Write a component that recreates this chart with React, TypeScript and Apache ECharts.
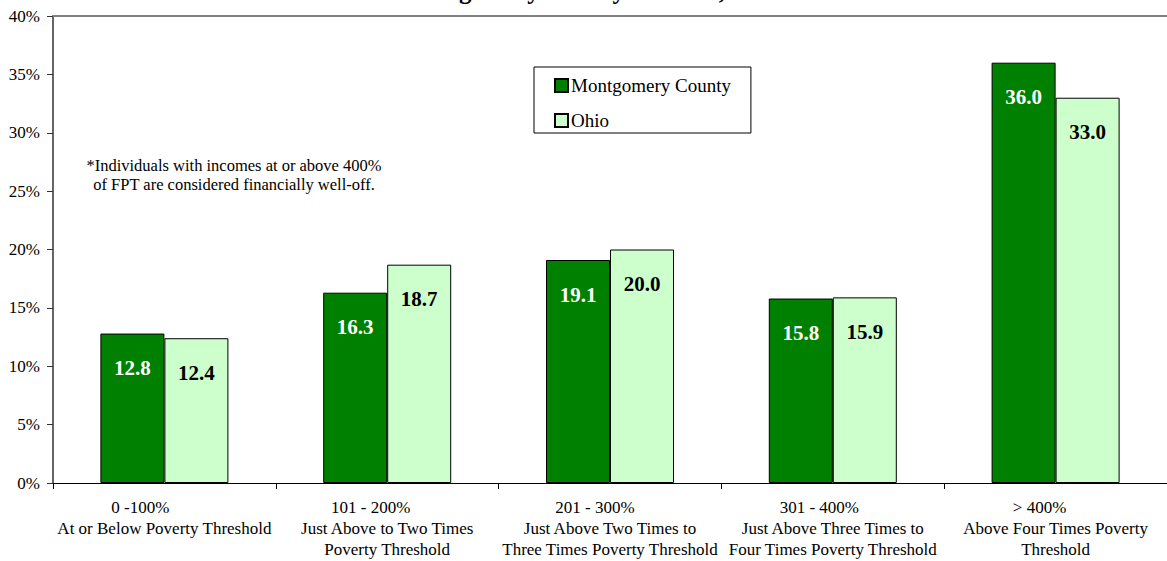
import React, { useEffect, useRef } from "react";
import * as echarts from "echarts";

const categoryRanges = ["0 -100%", "101 - 200%", "201 - 300%", "301 - 400%", "> 400%"];
const categoryDescriptions = [
  "At or Below Poverty Threshold",
  "Just Above to Two Times\nPoverty Threshold",
  "Just Above Two Times to\nThree Times Poverty Threshold",
  "Just Above Three Times to\nFour Times Poverty Threshold",
  "Above Four Times Poverty\nThreshold",
];
const seriesNames = ["Montgomery County", "Ohio"];
const montgomeryValues = [12.8, 16.3, 19.1, 15.8, 36.0];
const ohioValues = [12.4, 18.7, 20.0, 15.9, 33.0];
const titleText = "Income Levels in Montgomery County vs. Ohio, 2008";
const noteLines = [
  "*Individuals with incomes at or above 400%",
  "of FPT are considered financially well-off.",
];

// visual offsets of the first label line (Excel-like trailing space)
const rangePadRight = [48, 33, 30, 27, 32];

const FONT = '"Liberation Serif", "Times New Roman", Times, serif';

export default function App() {
  const ref = useRef<HTMLDivElement>(null);

  useEffect(() => {
    document.body.style.margin = "0";
    const chart = echarts.init(ref.current!, null, { renderer: "svg" });

    const rich: any = {
      d: { fontFamily: FONT, fontSize: 17, color: "#000", lineHeight: 21 },
    };
    rangePadRight.forEach((p, i) => {
      rich["r" + i] = {
        fontFamily: FONT,
        fontSize: 17,
        color: "#000",
        lineHeight: 21,
        padding: [0, p, 0, 0],
      };
    });

    chart.setOption({
      animation: false,
      backgroundColor: "#fff",
      textStyle: { fontFamily: FONT },
      grid: { left: 53, right: -7, top: 16, bottom: 78, containLabel: false },
      legend: {
        orient: "vertical",
        left: 534,
        top: 67,
        padding: [9, 20, 3, 20],
        itemGap: 16,
        itemWidth: 13,
        itemHeight: 13,
        borderColor: "#000",
        borderWidth: 1,
        backgroundColor: "#fff",
        icon: "rect",
        textStyle: { fontFamily: FONT, fontSize: 19, color: "#000", padding: [0, 0, 0, -2] },
        data: seriesNames,
      },
      xAxis: [
        {
          type: "category",
          data: categoryRanges,
          axisLine: { lineStyle: { color: "#000", width: 1.2 } },
          axisTick: { show: true, alignWithLabel: false, length: 6, lineStyle: { color: "#000" } },
          axisLabel: {
            interval: 0,
            margin: 14,
            hideOverlap: false,
            formatter: (v: string, i: number) => {
              const desc = categoryDescriptions[i].split("\n").map((l) => `{d|${l}}`).join("\n");
              return `{r${i}|${v}}\n${desc}`;
            },
            rich,
          },
        },
        {
          type: "category",
          position: "top",
          data: categoryRanges,
          axisLine: { show: true, lineStyle: { color: "#808080", width: 2 } },
          axisTick: { show: false },
          axisLabel: { show: false },
        },
      ],
      yAxis: {
        type: "value",
        min: 0,
        max: 40,
        interval: 5,
        axisLine: { show: true, lineStyle: { color: "#333", width: 1.5 } },
        axisTick: { show: true, inside: false, length: 6, lineStyle: { color: "#333" } },
        splitLine: { show: false },
        axisLabel: {
          formatter: "{value}%",
          margin: 13,
          fontFamily: FONT,
          fontSize: 17,
          color: "#000",
        },
      },
      series: [
        {
          name: seriesNames[0],
          type: "bar",
          data: montgomeryValues,
          barWidth: 64,
          barGap: "0%",
          itemStyle: { color: "#008000", borderColor: "#000", borderWidth: 1 },
          label: {
            show: true,
            position: "insideTop",
            distance: 24,
            formatter: (p: any) => Number(p.value).toFixed(1),
            fontFamily: FONT,
            fontWeight: "bold",
            fontSize: 21,
            color: "#fff",
          },
        },
        {
          name: seriesNames[1],
          type: "bar",
          data: ohioValues,
          barWidth: 64,
          barGap: "0%",
          itemStyle: { color: "#CCFFCC", borderColor: "#000", borderWidth: 1 },
          label: {
            show: true,
            position: "insideTop",
            distance: 24,
            formatter: (p: any) => Number(p.value).toFixed(1),
            fontFamily: FONT,
            fontWeight: "bold",
            fontSize: 21,
            color: "#000",
          },
        },
      ],
      graphic: [
        {
          type: "text",
          x: 214,
          y: 3,
          silent: true,
          style: {
            text: titleText,
            font: `bold 25px ${FONT}`,
            fill: "#000",
            verticalAlign: "bottom",
            align: "left",
          },
        },
        {
          type: "text",
          x: 234,
          y: 175,
          style: {
            text: noteLines.join("\n"),
            font: `16.5px ${FONT}`,
            fill: "#000",
            align: "center",
            verticalAlign: "middle",
            lineHeight: 18.5,
          },
        },
      ],
    });

    return () => chart.dispose();
  }, []);

  return (
    <div
      ref={ref}
      style={{ position: "fixed", left: 0, top: 0, width: 1167, height: 561 }}
    />
  );
}
